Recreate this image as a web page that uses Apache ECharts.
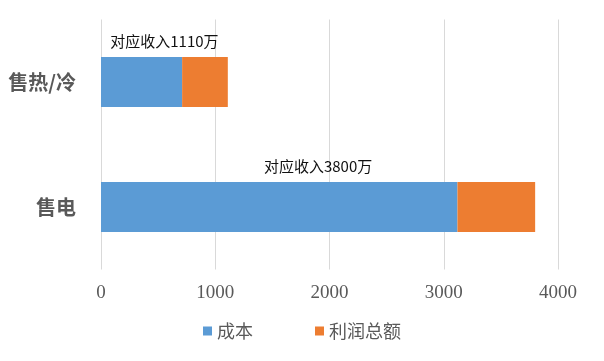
<!DOCTYPE html>
<html><head><meta charset="utf-8">
<script src="https://cdn.jsdelivr.net/npm/echarts@6/dist/echarts.min.js"></script>
<style>html,body{margin:0;padding:0;background:#fff}#c{width:604px;height:361px}</style>
</head><body><div id="c"></div>
<script>
const categories = ['售电', '售热/冷'];
const cost = [3120, 710];
const profit = [680, 400];
const revenue = [3800, 1110];
const xTicks = [0, 1000, 2000, 3000, 4000];

const chart = echarts.init(document.getElementById('c'));
chart.setOption({
  animation: false,
  backgroundColor: '#fff',
  grid: {left: 101, right: 46, top: 19.5, bottom: 91.5},
  legend: {
    data: ['成本', '利润总额'],
    bottom: 16, left: 'center',
    itemWidth: 9, itemHeight: 9, itemGap: 62,
    icon: 'rect',
    textStyle: {fontFamily: 'Noto Sans CJK SC', fontSize: 18, color: '#595959'}
  },
  xAxis: {
    type: 'value', min: xTicks[0], max: xTicks[xTicks.length-1], interval: 1000,
    axisLine: {show: false}, axisTick: {show: false},
    splitLine: {lineStyle: {color: '#d9d9d9', width: 1}},
    axisLabel: {fontFamily: 'Liberation Serif', fontSize: 19, color: '#595959', margin: 14,
      formatter: v => String(v)}
  },
  yAxis: {
    type: 'category', data: categories,
    axisLine: {show: false}, axisTick: {show: false},
    axisLabel: {fontFamily: 'Noto Sans CJK SC', fontWeight: 'bold', fontSize: 20, color: '#595959', margin: 25}
  },
  series: [
    {name: '成本', type: 'bar', stack: 't', data: cost, barCategoryGap: '60%',
     itemStyle: {color: '#5b9bd5'}},
    {name: '利润总额', type: 'bar', stack: 't', data: profit,
     itemStyle: {color: '#ed7d31'}},
    {name: '收入', type: 'bar', data: revenue, barGap: '-100%',
     itemStyle: {color: 'rgba(0,0,0,0)'}, z: 1, silent: true,
     label: {show: true, position: 'top', distance: 8, formatter: '对应收入{c}万',
       fontFamily: 'Noto Sans CJK SC', fontSize: 15, color: '#111'}}
  ]
});
</script></body></html>
